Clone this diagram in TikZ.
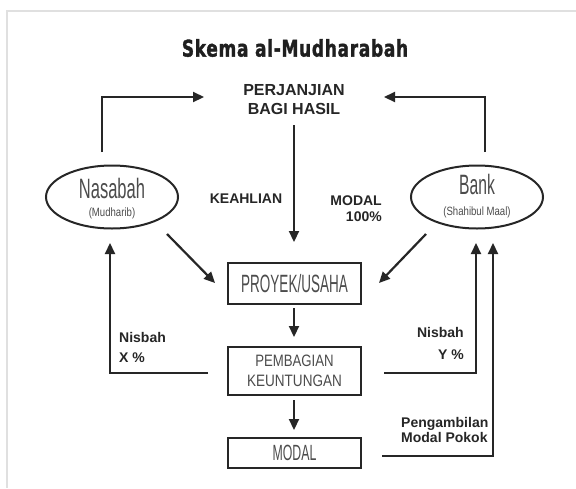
\documentclass[tikz,border=0pt]{standalone}
\usepackage{fontspec}
\setmainfont{Liberation Sans}
\newfontfamily\titlefont[FakeBold=1.6,LetterSpace=4]{DejaVu Sans}
\usetikzlibrary{arrows.meta,calc,shapes.geometric}
\newcommand\hx[2]{\scalebox{#1}[1]{#2}}
\begin{document}
\begin{tikzpicture}[x=1pt,y=-1pt,
 conn/.style={line width=2.2pt,draw=black!85,-{Triangle[length=11pt,width=10pt]}},
 box/.style={draw=black!85,line width=2.2pt,minimum width=133pt,inner sep=0,text=black!70},
 ell/.style={draw=black!85,ellipse,line width=2pt,minimum width=132pt,minimum height=63pt,inner sep=0},
 lbl/.style={font=\bfseries\fontsize{14}{16}\selectfont,inner sep=0,text=black!85},
 thin/.style={text=black!70,inner sep=0}]
\useasboundingbox (0,0) rectangle (576,488);
\fill[white] (0,0) rectangle (576,488);
\draw[black!12,line width=2pt] (7,488) -- (7,11) -- (576,11);

% title
\node[inner sep=0,text=black!88,font=\titlefont\bfseries\fontsize{23}{23}\selectfont] (title) at (295,48) {\hx{0.74}{Skema al-Mudharabah}};

% top agreement
\node[lbl,align=center,font=\bfseries\fontsize{16}{19}\selectfont] (perj) at (294,99.5) {PERJANJIAN\\BAGI HASIL};

% parties
\node[ell] (nas) at (112,197) {};
\node[thin,font=\fontsize{28}{28}\selectfont] (nasT) at (112,188) {\hx{0.59}{Nasabah}};
\node[thin,font=\fontsize{12}{12}\selectfont] (nasS) at (112,213) {\hx{0.8}{(Mudharib)}};
\node[ell] (bank) at (477,197) {};
\node[thin,font=\fontsize{28}{28}\selectfont] (bankT) at (477,184) {\hx{0.56}{Bank}};
\node[thin,font=\fontsize{12}{12}\selectfont] (bankS) at (477,212) {\hx{0.8}{(Shahibul Maal)}};

% boxes
\node[box,minimum height=41pt,font=\fontsize{25}{25}\selectfont] (proj) at (294.5,283.5) {\hx{0.54}{PROYEK/USAHA}};
\node[box,minimum height=48pt,align=center,font=\fontsize{16.5}{20}\selectfont] (bagi) at (294.5,371) {\hx{0.8}{PEMBAGIAN}\\\hx{0.82}{KEUNTUNGAN}};
\node[box,minimum height=30pt,font=\fontsize{22}{22}\selectfont] (mod) at (294.5,453) {\hx{0.56}{MODAL}};

% labels
\node[lbl] (keah) at (246,199) {KEAHLIAN};
\node[lbl,align=right,anchor=east] (modl) at (382,208.5) {MODAL\\100\%};
\node[lbl,align=left,anchor=west,font=\bfseries\fontsize{14}{20}\selectfont] (nisx) at (119,347) {Nisbah\\X \%};
\node[lbl,align=right,anchor=east,font=\bfseries\fontsize{14}{22}\selectfont] (nisy) at (464,343) {Nisbah\\Y \%};
\node[lbl,align=left,anchor=west,font=\bfseries\fontsize{14}{15}\selectfont] (peng) at (401,429.5) {Pengambilan\\Modal Pokok};

% coordinates
\coordinate (a1) at (102,152);
\coordinate (a2) at (204,97);
\coordinate (b1) at (485,152);
\coordinate (b2) at (384,97);
\coordinate (c1) at (294,125);
\coordinate (c2) at (294,242);
\coordinate (d1) at (167,234);
\coordinate (d2) at (215,283);
\coordinate (e1) at (426,234);
\coordinate (e2) at (379,283);
\coordinate (f1) at (294,308);
\coordinate (f2) at (294,337);
\coordinate (g1) at (294,400);
\coordinate (g2) at (294,430);
\coordinate (h1) at (208,373);
\coordinate (h2) at (110,243);
\coordinate (i1) at (384,373);
\coordinate (i2) at (476,243);
\coordinate (j1) at (382,456);
\coordinate (j2) at (493,243);

\draw[conn] (a1) |- (a2);
\draw[conn] (b1) |- (b2);
\draw[conn] (c1) -- (c2);
\draw[conn] (d1) -- (d2);
\draw[conn] (e1) -- (e2);
\draw[conn] (f1) -- (f2);
\draw[conn] (g1) -- (g2);
\draw[conn] (h1) -| (h2);
\draw[conn] (i1) -| (i2);
\draw[conn] (j1) -| (j2);
\end{tikzpicture}
\end{document}
